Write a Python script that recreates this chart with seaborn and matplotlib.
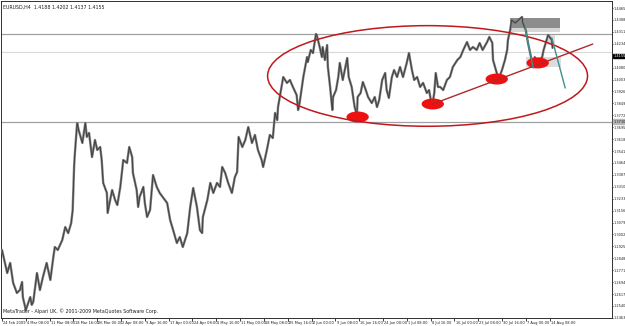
import matplotlib
matplotlib.use("Agg")
import matplotlib.pyplot as plt
import matplotlib.transforms as mtrans
from matplotlib.patches import Ellipse, Rectangle
from matplotlib import font_manager
import seaborn as sns
import pandas as pd

bar = [0, 7, 11, 15, 20, 24, 27, 28, 32, 38, 40, 42, 47, 51, 55, 60, 65, 69, 71, 75,
       81, 85, 89, 93, 95, 97, 98, 101, 103, 108, 112, 114, 117, 121, 125, 128, 132, 134, 136, 141,
       142, 148, 152, 155, 159, 163, 168, 171, 175, 176, 181, 183, 185, 190, 192, 195, 199, 203, 208, 212,
       216, 222, 226, 230, 235, 239, 243, 249, 253, 257, 262, 266, 269, 270, 276, 280, 284, 289, 293, 296,
       300, 304, 309, 313, 316, 318, 323, 327, 331, 336, 340, 344, 349, 351, 356, 360, 364, 367, 370, 371,
       375, 378, 383, 387, 391, 396, 398, 400, 405, 410, 411, 415, 418, 422, 423, 427, 430, 431, 434, 437,
       438, 441, 444, 445, 449, 452, 454, 458, 464, 466, 470, 474, 477, 478, 482, 485, 489, 492, 497, 501,
       504, 507, 511, 515, 517, 520, 524, 527, 531, 535, 539, 544, 547, 551, 554, 558, 562, 566, 571, 574,
       578, 581, 583, 586, 589, 593, 598, 602, 606, 612, 616, 620, 625, 629, 633, 638, 642, 646, 652, 655,
       659, 660, 665, 668, 672, 676, 679, 680, 683, 685, 690, 694, 699, 700, 704, 707, 711, 714, 716, 720,
       726, 728, 732, 734, 739, 740]
price = [1.2902, 1.2753, 1.2818, 1.2689, 1.2624, 1.2643, 1.2695, 1.2598, 1.2514, 1.2598, 1.2547, 1.2566, 1.2753, 1.2643, 1.2727, 1.2818, 1.2708, 1.2856, 1.2921, 1.2902,
         1.2966, 1.3050, 1.3011, 1.3076, 1.3160, 1.3451, 1.3528, 1.3722, 1.3677, 1.3593, 1.3722, 1.3632, 1.3658, 1.3502, 1.3612, 1.3548, 1.3567, 1.3483, 1.3335, 1.3270,
         1.3141, 1.3289, 1.3225, 1.3192, 1.3309, 1.3483, 1.3464, 1.3567, 1.3502, 1.3399, 1.3289, 1.3180, 1.3244, 1.3309, 1.3205, 1.3115, 1.3160, 1.3386, 1.3309, 1.3270,
         1.3244, 1.3205, 1.3095, 1.3031, 1.2947, 1.2985, 1.2921, 1.3011, 1.3180, 1.3302, 1.3180, 1.3031, 1.3011, 1.3115, 1.3225, 1.3335, 1.3270, 1.3335, 1.3309, 1.3438,
         1.3399, 1.3335, 1.3270, 1.3373, 1.3405, 1.3632, 1.3567, 1.3612, 1.3696, 1.3593, 1.3645, 1.3548, 1.3483, 1.3438, 1.3548, 1.3645, 1.3625, 1.3787, 1.3741, 1.3825,
         1.3935, 1.4019, 1.3981, 1.4000, 1.3955, 1.3903, 1.3806, 1.3851, 1.4019, 1.4148, 1.4116, 1.4194, 1.4174, 1.4297, 1.4291, 1.4213, 1.4148, 1.4213, 1.4129, 1.4226,
         1.4084, 1.3955, 1.3806, 1.3890, 1.3935, 1.4019, 1.4110, 1.4000, 1.4142, 1.4019, 1.3955, 1.3825, 1.3774, 1.3890, 1.3916, 1.3987, 1.3935, 1.3890, 1.3851, 1.3890,
         1.3825, 1.3871, 1.4000, 1.4045, 1.3935, 1.3884, 1.4019, 1.4064, 1.4019, 1.4084, 1.4019, 1.4110, 1.4174, 1.4064, 1.4000, 1.4019, 1.3955, 1.3981, 1.3916, 1.3935,
         1.3825, 1.3916, 1.4045, 1.3955, 1.3955, 1.3935, 1.4000, 1.4019, 1.4084, 1.4129, 1.4148, 1.4194, 1.4245, 1.4194, 1.4213, 1.4194, 1.4239, 1.4194, 1.4245, 1.4278,
         1.4239, 1.4129, 1.4045, 1.4013, 1.4064, 1.4129, 1.4194, 1.4258, 1.4323, 1.4387, 1.4368, 1.4387, 1.4407, 1.4368, 1.4323, 1.4239, 1.4148, 1.4084, 1.4148, 1.4116,
         1.4148, 1.4194, 1.4258, 1.4291, 1.4258, 1.4207]

x_labels = ["24 Feb 2009", "4 Mar 08:00", "11 Mar 08:00", "18 Mar 16:00", "26 Mar 00:00",
            "2 Apr 08:00", "9 Apr 16:00", "17 Apr 00:00", "24 Apr 08:00", "1 May 16:00",
            "11 May 00:00", "18 May 08:00", "25 May 16:00", "2 Jun 00:00", "9 Jun 08:00",
            "16 Jun 16:00", "24 Jun 00:00", "1 Jul 08:00", "8 Jul 16:00", "16 Jul 00:00",
            "23 Jul 08:00", "30 Jul 16:00", "7 Aug 00:00", "14 Aug 08:00"]
bars_per_label = 32
y_ticks = [1.4465, 1.4388, 1.4311, 1.4234, 1.4080, 1.4003, 1.3926, 1.3849,
           1.3772, 1.3695, 1.3618, 1.3541, 1.3464, 1.3387, 1.3310, 1.3233, 1.3156,
           1.3079, 1.3002, 1.2925, 1.2848, 1.2771, 1.2694, 1.2617, 1.2540, 1.2463]

h_levels = [1.4300, 1.4180, 1.3730]
bid_price = 1.4155
title_text = "EURUSD,H4  1.4188 1.4202 1.4137 1.4155"
copyright_text = "MetaTrader - Alpari UK, \u00a9 2001-2009 MetaQuotes Software Corp."

# annotations (bar index, price)
big_ellipse = (572, 1.4026, 430, 0.0650)
blobs = [(478, 1.3761), (579, 1.3845), (665, 1.4006), (720, 1.4110)]
trend_line = ([579, 794], [1.3845, 1.4232])
teal_lines = [([703, 714], [1.4336, 1.4077]), ([739, 757], [1.4271, 1.3948])]

df = pd.DataFrame({"bar": bar, "price": price})

sns.set_theme(style="white")
names = {f.name for f in font_manager.fontManager.ttflist}
small_font = ["Liberation Sans Narrow", "DejaVu Sans"] if "Liberation Sans Narrow" in names \
    else ["DejaVu Sans"]
plt.rcParams["font.family"] = small_font

fig = plt.figure(figsize=(6.25, 3.26), dpi=100)
fig.patch.set_facecolor("white")
ax = fig.add_axes([1 / 625, 8 / 326, 611 / 625, 317 / 326])
ax.set_facecolor("white")

px_per_bar = 0.744
px_per_unit = 1548.0
x0 = -1 / px_per_bar
ax.set_xlim(x0, x0 + 611 / px_per_bar)
ax.set_ylim(1.4465 - 310 / px_per_unit, 1.4465 + 7 / px_per_unit)

# horizontal levels
ax.axhline(h_levels[0], color="#a0a0a0", lw=0.9, zorder=1)
ax.axhline(h_levels[1], color="#d8d8d8", lw=0.8, zorder=1)
ax.axhline(h_levels[2], color="#a0a0a0", lw=0.9, zorder=1)

# rectangles
ax.add_patch(Rectangle((683, 1.4336), 67, 0.0064, color="#8c8c8c", zorder=2, lw=0))
ax.add_patch(Rectangle((683, 1.4310), 67, 0.0026, color="#d6d6d6", zorder=2, lw=0))
ax.add_patch(Rectangle((704, 1.4084), 48, 0.0064, color="#dcdcdc", zorder=2, lw=0))
ax.add_patch(Rectangle((732, 1.4226), 11, 0.0065, color="#dcdcdc", zorder=2, lw=0))

# price series
sns.lineplot(data=df, x="bar", y="price", ax=ax, color="#7c7c7c", lw=1.7,
             zorder=3, legend=False)
sns.lineplot(data=df, x="bar", y="price", ax=ax, color="#3a3a3a", lw=0.6,
             zorder=4, legend=False)

# annotations
cx, cy, w, h = big_ellipse
ax.add_patch(Ellipse((cx, cy), w, h, fill=False, ec="#c0181c", lw=1.1, zorder=6))
for bx, by in blobs:
    ax.add_patch(Ellipse((bx, by), 30, 0.0071, color="#ee1111", zorder=5, lw=0))
ax.plot(trend_line[0], trend_line[1], color="#b0282a", lw=1.0, zorder=6)
for lx, ly in teal_lines:
    ax.plot(lx, ly, color="#3f8f8f", lw=1.0, zorder=6)

# axes styling
for s in ax.spines.values():
    s.set_color("#303030")
    s.set_linewidth(0.7)
ax.set_xlabel("")
ax.set_ylabel("")
ax.yaxis.tick_right()
ax.set_yticks(y_ticks)
ax.set_yticklabels([f"{v:.4f}" for v in y_ticks])
ax.tick_params(axis="y", right=True, length=1, width=0.6, pad=0.4, labelsize=2.5,
               colors="#202020")
xt = [i * bars_per_label for i in range(len(x_labels))]
ax.set_xticks(xt)
ax.set_xticklabels(x_labels, ha="left")
ax.tick_params(axis="x", bottom=True, length=2, width=0.6, pad=0.3, labelsize=2.6,
               colors="#202020")
offset = mtrans.ScaledTranslation(1.2 / 100, 0, fig.dpi_scale_trans)
for lbl in ax.get_xticklabels():
    lbl.set_transform(lbl.get_transform() + offset)

# price marker boxes on the right scale
ax.text(1.0025, bid_price, f"{bid_price:.4f}", transform=ax.get_yaxis_transform(),
        fontsize=2.5, color="white", va="center", ha="left",
        bbox=dict(boxstyle="square,pad=0.12", fc="black", ec="black"), clip_on=False)
ax.text(1.0025, h_levels[2], f"{h_levels[2]:.4f}", transform=ax.get_yaxis_transform(),
        fontsize=2.5, color="#202020", va="center", ha="left",
        bbox=dict(boxstyle="square,pad=0.12", fc="#b8b8b8", ec="#b8b8b8"), clip_on=False)

ax.text(0.004, 0.988, title_text, transform=ax.transAxes, fontsize=3.4,
        color="#202020", va="top", ha="left")
ax.text(0.004, 0.012, copyright_text, transform=ax.transAxes, fontsize=3.4,
        color="#202020", va="bottom", ha="left")

fig.savefig("out.png", dpi=100, facecolor="white")
